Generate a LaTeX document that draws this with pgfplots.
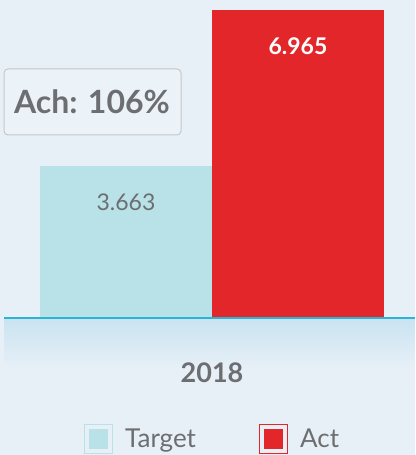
\documentclass[border=0pt]{standalone}
\usepackage{pgfplots}
\pgfplotsset{compat=1.18}
\usepackage{fontspec}
\setmainfont{Lato}
\definecolor{bg}{HTML}{E8F0F7}
\definecolor{band}{HTML}{C9E3F1}
\definecolor{tgt}{HTML}{B9E2E8}
\definecolor{act}{HTML}{E3262A}
\definecolor{axcol}{HTML}{2AB4D6}
\definecolor{txt}{HTML}{6D6E71}
\begin{document}
\begin{tikzpicture}[x=1pt,y=1pt]
\fill[bg] (0,0) rectangle (415,455);
\shade[top color=band, bottom color=bg] (4,85) rectangle (415,137);
\begin{axis}[
  at={(4pt,137pt)}, anchor=south west,
  scale only axis, width=411pt, height=318pt,
  xmin=-208, xmax=203, ymin=0.446, ymax=7.177,
  ybar, bar width=172pt,
  axis x line*=bottom, hide y axis,
  x axis line style={draw=axcol, line width=1.5pt, -},
  axis on top,
  xtick={0}, xticklabels={2018},
  xtick style={draw=none},
  xticklabel style={anchor=center, yshift=-50pt, font=\fontsize{27}{29}\selectfont\bfseries, text=txt},
  /pgf/number format/assume math mode=true,
  /pgf/number format/.cd, fixed, fixed zerofill, precision=3,
]
\addplot[fill=tgt, draw=none, bar shift=-86pt,
  nodes near coords,
  nodes near coords style={anchor=center, yshift=-36pt, text=txt, font=\fontsize{23}{26}\selectfont}]
  coordinates {(0,3.663)};
\addplot[fill=act, draw=none, bar shift=86pt,
  nodes near coords,
  nodes near coords style={anchor=center, yshift=-36pt, text=white, font=\fontsize{23}{26}\selectfont\bfseries}]
  coordinates {(0,6.965)};
\end{axis}
\draw[rounded corners=4pt, draw=black!22, line width=1pt, fill=bg!85!white] (4,320) rectangle (181,386);
\node[text=txt, font=\fontsize{32}{36}\selectfont\bfseries] at (92,353) {Ach: 106\%};
% legend
\draw[tgt, line width=1pt, fill=bg] (84.5,1.5) rectangle (112.5,30.5);
\fill[tgt] (89,6) rectangle (108,26);
\draw[act, line width=1pt, fill=bg] (259.5,1.5) rectangle (287.5,30.5);
\fill[act] (264,6) rectangle (283,26);
\node[anchor=base west, text=txt, font=\fontsize{26}{28}\selectfont, inner sep=0pt] at (125,8) {Target};
\node[anchor=base west, text=txt, font=\fontsize{26}{28}\selectfont, inner sep=0pt] at (300,8) {Act};
\end{tikzpicture}
\end{document}
